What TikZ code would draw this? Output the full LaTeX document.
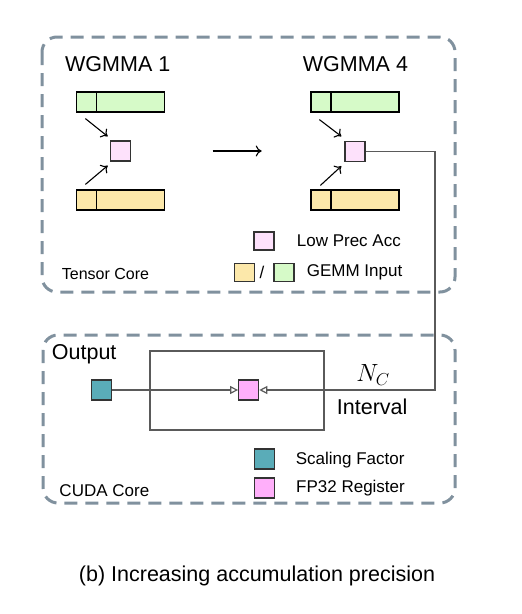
\documentclass[tikz,border=0pt]{standalone}
\usepackage{fontspec}
\setmainfont{Liberation Sans}
\usetikzlibrary{arrows.meta}

\definecolor{gemmgreen}{RGB}{214,250,200}
\definecolor{gemmyellow}{RGB}{252,232,170}
\definecolor{accpink}{RGB}{253,225,251}
\definecolor{regpink}{RGB}{255,175,250}
\definecolor{scaleteal}{RGB}{90,172,184}
\definecolor{coregray}{RGB}{128,145,158}
\definecolor{wiregray}{RGB}{90,90,90}

\tikzset{
  core/.style={draw=coregray, line width=3pt, dash pattern=on 13pt off 8pt, rounded corners=15pt},
  bar/.style={draw=black, line width=1.2pt, minimum width=88pt, minimum height=20pt, inner sep=0pt},
  cell/.style={draw=black!80, line width=1.2pt, minimum width=20pt, minimum height=20pt, inner sep=0pt},
  wire/.style={draw=wiregray, line width=1.2pt},
  feed/.style={->, >={To[length=6pt,width=11pt]}, line width=1.1pt},
  back/.style={wire, -{Triangle[open,length=8pt,width=8pt]}},
  big/.style={inner sep=0pt, font=\fontsize{21.5}{24}\selectfont},
  small/.style={inner sep=0pt, font=\fontsize{17}{20}\selectfont},
}

\begin{document}
\begin{tikzpicture}[x=1pt, y=-1pt]
        \useasboundingbox (0,0) rectangle (522,614);
        % core frames
        \draw [core] (42,37) rectangle (455,292);
        \draw [core] (43,335) rectangle (455,503);
        % tensor core
        \node [big, anchor=base west] (wg1) at (65,71.7) {WGMMA 1};
        \node [big, anchor=base west] (wg4) at (302.7,71.7) {WGMMA 4};
        \node [bar, fill=gemmgreen] (in1a) at (120.5,102) {};
        \node [bar, fill=gemmyellow] (in1b) at (120.5,200) {};
        \node [cell, fill=accpink] (acc1) at (120.3,151) {};
        \node [bar, fill=gemmgreen] (in4a) at (355,102) {};
        \node [bar, fill=gemmyellow] (in4b) at (355,200) {};
        \node [cell, fill=accpink] (acc4) at (355,151.5) {};
        \foreach \b in {in1a,in1b,in4a,in4b}
            \draw [line width=1.2pt] ([xshift=20.5pt]\b.north west) -- ([xshift=20.5pt]\b.south west);
        \draw [feed] ([shift={(9.5pt,-6pt)}]in1a.south west) -- ([shift={(-2pt,4pt)}]acc1.north west);
        \draw [feed] ([shift={(9.5pt,5pt)}]in1b.north west) -- ([shift={(-2pt,-4pt)}]acc1.south west);
        \draw [feed] ([shift={(9pt,-7pt)}]in4a.south west) -- ([shift={(-3pt,4.5pt)}]acc4.north west);
        \draw [feed] ([shift={(10pt,4pt)}]in4b.north west) -- ([shift={(-3pt,-4pt)}]acc4.south west);
        \coordinate (next0) at (212.7,151);
        \coordinate (next1) at (261.7,151);
        \draw [feed] (next0) -- (next1);
        % tensor core legend
        \node [cell, fill=accpink, minimum height=18pt] (keyacc) at (264,241) {};
        \node [small, anchor=base west] (txtacc) at (296.7,246.8) {Low Prec Acc};
        \node [cell, fill=gemmyellow, minimum height=18pt] (keyb) at (244.5,272.5) {};
        \node [small] (slash) at (262,272.5) {/};
        \node [cell, fill=gemmgreen, minimum height=18pt] (keya) at (284,272.5) {};
        \node [small, anchor=base west] (txtgemm) at (306.7,276.7) {GEMM Input};
        \node [inner sep=0pt, font=\fontsize{16}{19}\selectfont, anchor=base west] (tc) at (61.7,279.3) {Tensor Core};
        % cuda core
        \node [big, anchor=base west] (out) at (51.7,359.3) {Output};
        \node [wire, minimum width=174pt, minimum height=79pt] (interval) at (237,390.5) {};
        \node [cell, fill=scaleteal] (scale) at (101.3,390) {};
        \node [cell, fill=regpink] (reg) at (248.7,390) {};
        \coordinate (bend) at (435,151.5);
        \draw [back] (scale.east) -- (reg.west);
        \draw [back] (acc4.east) -- (bend) |- (reg.east);
        \node [inner sep=0pt, font=\fontsize{23}{26}\selectfont] (nc) at (373,375) {$N_C$};
        \node [big, anchor=base west] (txtint) at (336.7,414.3) {Interval};
        % cuda core legend
        \node [cell, fill=scaleteal] (keyscale) at (264.5,459) {};
        \node [small, anchor=base west] (txtscale) at (295.7,464.3) {Scaling Factor};
        \node [cell, fill=regpink] (keyreg) at (264.5,488) {};
        \node [small, anchor=base west] (txtreg) at (296,492.7) {FP32 Register};
        \node [small, anchor=base west] (cc) at (59.3,496) {CUDA Core};
        % caption
        \node [big, anchor=base] (cap) at (257,581) {(b) Increasing accumulation precision};
    \end{tikzpicture}
\end{document}
